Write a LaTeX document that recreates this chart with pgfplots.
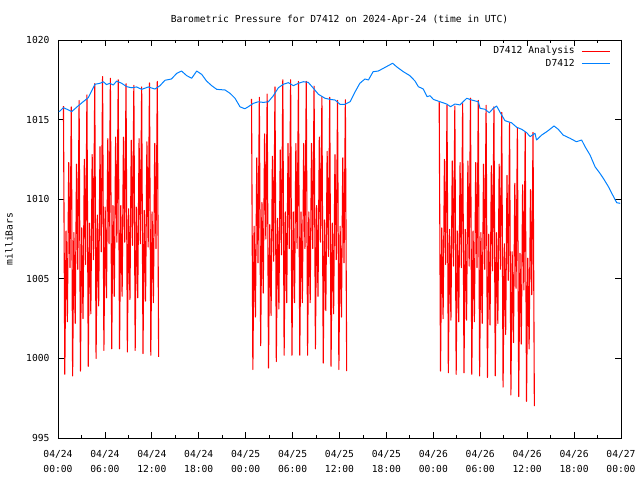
\documentclass[border=0pt]{standalone}
\usepackage{fontspec}
\setmainfont{DejaVu Sans Mono}
\usepackage{pgfplots}
\pgfplotsset{compat=1.18}
\definecolor{gblue}{RGB}{0,128,255}
\definecolor{gred}{RGB}{255,0,0}
\newcommand{\gfont}{\fontsize{9.7}{13}\selectfont}
\begin{document}
\begin{tikzpicture}
\begin{axis}[
  scale only axis, width=563bp, height=398bp,
  xmin=0, xmax=72, ymin=995, ymax=1020,
  xtick={0,6,...,72},
  xticklabels={04/24\\[2bp]00:00,04/24\\[2bp]06:00,04/24\\[2bp]12:00,04/24\\[2bp]18:00,04/25\\[2bp]00:00,04/25\\[2bp]06:00,04/25\\[2bp]12:00,04/25\\[2bp]18:00,04/26\\[2bp]00:00,04/26\\[2bp]06:00,04/26\\[2bp]12:00,04/26\\[2bp]18:00,04/27\\[2bp]00:00},
  minor xtick={3,9,...,69},
  ytick={995,1000,...,1020},
  yticklabels={995,1000,1005,1010,1015,1020},
  tick pos=both, tick align=inside,
  major tick length=6bp, minor tick length=3bp,
  every tick/.style={black, line width=0.8bp},
  axis line style={line width=0.8bp},
  xticklabel style={align=center, font=\gfont, yshift=-8.5bp},
  yticklabel style={font=\gfont, xshift=-5bp},
  title={Barometric Pressure for D7412 on 2024-Apr-24 (time in UTC)},
  title style={font=\gfont, at={(axis description cs:0.5,1.036)}, anchor=center},
  ylabel={milliBars},
  ylabel style={font=\gfont, at={(axis description cs:-0.087,0.5)}, anchor=center},
  clip=false,
]
\addplot[gred, line width=1.1bp, line join=round, mark=none] coordinates {
(0.7,1015.85)(0.87,999.0)(1.03,1008.0)(1.2,1002.3)(1.37,1012.3)(1.53,1005.7)
(1.7,1015.8)(1.87,998.9)(2.03,1007.9)(2.2,1002.2)(2.37,1012.2)(2.53,1005.6)
(2.7,1016.2)(2.87,999.2)(3.03,1008.2)(3.2,1002.5)(3.37,1012.5)(3.53,1005.9)
(3.7,1016.55)(3.87,999.5)(4.03,1008.5)(4.2,1002.8)(4.37,1012.8)(4.53,1006.2)
(4.7,1017.25)(4.87,1000.0)(5.03,1009.0)(5.2,1003.3)(5.37,1013.3)(5.53,1006.7)
(5.7,1017.7)(5.87,1000.5)(6.03,1009.5)(6.2,1003.8)(6.37,1013.8)(6.53,1007.2)
(6.7,1017.6)(6.87,1000.6)(7.03,1009.6)(7.2,1003.9)(7.37,1013.9)(7.53,1007.3)
(7.7,1017.5)(7.87,1000.6)(8.03,1009.6)(8.2,1003.9)(8.37,1013.9)(8.53,1007.3)
(8.7,1017.25)(8.87,1000.4)(9.03,1009.4)(9.2,1003.7)(9.37,1013.7)(9.53,1007.1)
(9.7,1017.15)(9.87,1000.5)(10.03,1009.5)(10.2,1003.8)(10.37,1013.8)(10.53,1007.2)
(10.7,1017.05)(10.87,1000.3)(11.03,1009.3)(11.2,1003.6)(11.37,1013.6)(11.53,1007.0)
(11.7,1017.3)(11.87,1000.2)(12.03,1009.2)(12.2,1003.5)(12.37,1013.5)(12.53,1006.9)
(12.7,1017.4)(12.87,1000.1)
};
\addplot[gred, line width=1.1bp, line join=round, mark=none] coordinates {
(24.75,1016.3)(24.92,999.3)(25.08,1008.3)(25.25,1002.6)(25.42,1012.6)(25.58,1006.0)
(25.75,1016.4)(25.92,1000.8)(26.08,1009.8)(26.25,1004.1)(26.42,1014.1)(26.58,1007.5)
(26.75,1016.6)(26.92,999.4)(27.08,1008.4)(27.25,1002.7)(27.42,1012.7)(27.58,1006.1)
(27.75,1017.05)(27.92,999.8)(28.08,1008.8)(28.25,1003.1)(28.42,1013.1)(28.58,1006.5)
(28.75,1017.5)(28.92,1000.2)(29.08,1009.2)(29.25,1003.5)(29.42,1013.5)(29.58,1006.9)
(29.75,1017.5)(29.92,1000.2)(30.08,1009.2)(30.25,1003.5)(30.42,1013.5)(30.58,1006.9)
(30.75,1017.4)(30.92,1000.2)(31.08,1009.2)(31.25,1003.5)(31.42,1013.5)(31.58,1006.9)
(31.75,1017.4)(31.92,1000.2)(32.08,1009.2)(32.25,1003.5)(32.42,1013.5)(32.58,1006.9)
(32.75,1017.1)(32.92,1000.6)(33.08,1009.6)(33.25,1003.9)(33.42,1013.9)(33.58,1007.3)
(33.75,1016.45)(33.92,999.7)(34.08,1008.7)(34.25,1003.0)(34.42,1013.0)(34.58,1006.4)
(34.75,1016.4)(34.92,999.5)(35.08,1008.5)(35.25,1002.8)(35.42,1012.8)(35.58,1006.2)
(35.75,1016.2)(35.92,999.3)(36.08,1008.3)(36.25,1002.6)(36.42,1012.6)(36.58,1006.0)
(36.75,1016.25)(36.92,999.2)
};
\addplot[gred, line width=1.1bp, line join=round, mark=none] coordinates {
(48.75,1016.1)(48.92,999.2)(49.08,1008.2)(49.25,1002.5)(49.42,1012.5)(49.58,1005.9)
(49.75,1015.9)(49.92,999.1)(50.08,1008.1)(50.25,1002.4)(50.42,1012.4)(50.58,1005.8)
(50.75,1015.85)(50.92,999.0)(51.08,1008.0)(51.25,1002.3)(51.42,1012.3)(51.58,1005.7)
(51.75,1016.0)(51.92,999.1)(52.08,1008.1)(52.25,1002.4)(52.42,1012.4)(52.58,1005.8)
(52.75,1016.35)(52.92,999.0)(53.08,1008.0)(53.25,1002.3)(53.42,1012.3)(53.58,1005.7)
(53.75,1016.2)(53.92,998.9)(54.08,1007.9)(54.25,1002.2)(54.42,1012.2)(54.58,1005.6)
(54.75,1015.9)(54.92,998.8)(55.08,1007.8)(55.25,1002.1)(55.42,1012.1)(55.58,1005.5)
(55.75,1015.8)(55.92,998.9)(56.08,1007.9)(56.25,1002.2)(56.42,1012.2)(56.58,1005.6)
(56.75,1015.45)(56.92,998.2)(57.08,1007.2)(57.25,1001.5)(57.42,1011.5)(57.58,1004.9)
(57.75,1014.8)(57.92,997.7)(58.08,1006.7)(58.25,1001.0)(58.42,1011.0)(58.58,1004.4)
(58.75,1014.5)(58.92,997.6)(59.08,1006.6)(59.25,1000.9)(59.42,1010.9)(59.58,1004.3)
(59.75,1014.2)(59.92,997.3)(60.08,1006.3)(60.25,1000.6)(60.42,1010.6)(60.58,1004.0)
(60.75,1014.2)(60.92,997.0)
};
\addplot[gblue, line width=1bp, line join=round, mark=none] coordinates {
(0.1,1015.5)(0.26,1015.54)(0.68,1015.75)(1.1,1015.66)(1.75,1015.5)(2.6,1015.87)
(3.24,1016.13)(3.88,1016.38)(4.3,1016.8)(4.73,1017.22)(5.37,1017.28)(5.8,1017.38)
(6.2,1017.2)(6.65,1017.28)(7.07,1017.17)(7.5,1017.42)(8.14,1017.28)(8.78,1017.07)
(9.4,1017.0)(10.06,1017.05)(10.7,1016.9)(11.55,1017.05)(12.4,1016.92)(13.04,1017.13)
(13.68,1017.47)(14.5,1017.55)(15.18,1017.9)(15.8,1018.05)(16.46,1017.76)(17.1,1017.6)
(17.74,1018.05)(18.38,1017.84)(19.0,1017.42)(19.66,1017.13)(20.3,1016.9)(21.36,1016.86)
(22.0,1016.65)(22.64,1016.34)(23.28,1015.8)(23.9,1015.68)(24.34,1015.81)(24.98,1016.02)
(25.62,1016.12)(26.26,1016.08)(26.9,1016.12)(27.54,1016.5)(28.18,1017.0)(28.82,1017.22)
(29.46,1017.32)(30.1,1017.13)(30.74,1017.28)(31.38,1017.38)(32.0,1017.34)(32.66,1016.97)
(33.3,1016.59)(34.15,1016.34)(34.8,1016.27)(35.43,1016.23)(36.07,1015.96)(36.7,1015.96)
(37.35,1016.12)(38.0,1016.75)(38.6,1017.28)(39.25,1017.55)(39.7,1017.49)(40.3,1018.01)
(40.96,1018.05)(41.6,1018.22)(42.24,1018.39)(42.8,1018.54)(43.3,1018.32)(44.16,1018.01)
(45.0,1017.76)(45.66,1017.42)(46.08,1017.07)(46.72,1016.92)(47.2,1016.44)(47.58,1016.5)
(48.0,1016.27)(48.86,1016.12)(49.7,1015.98)(50.2,1015.81)(50.77,1015.98)(51.4,1015.92)
(52.27,1016.34)(52.9,1016.23)(53.76,1016.12)(53.97,1015.71)(54.6,1015.65)(55.16,1015.43)
(55.67,1015.71)(56.1,1015.85)(56.6,1015.4)(57.17,1014.93)(58.0,1014.8)(58.66,1014.52)
(59.3,1014.39)(59.94,1014.18)(60.37,1013.93)(61.0,1014.14)(61.2,1013.72)(61.86,1014.03)
(62.5,1014.24)(62.9,1014.39)(63.43,1014.6)(63.98,1014.39)(64.6,1014.03)(65.5,1013.82)
(66.3,1013.61)(66.97,1013.72)(67.4,1013.3)(68.04,1012.78)(68.68,1012.04)(69.3,1011.63)
(69.74,1011.31)(70.4,1010.78)(70.94,1010.26)(71.45,1009.78)(71.9,1009.74)
};
\node[font=\gfont, anchor=east, inner sep=0pt] at (axis description cs:0.9183,0.972) {D7412 Analysis};
\node[font=\gfont, anchor=east, inner sep=0pt] at (axis description cs:0.9183,0.9415) {D7412};
\draw[gred, line width=1bp] (axis description cs:0.9307,0.972) -- ++(28bp,0bp);
\draw[gblue, line width=1bp] (axis description cs:0.9307,0.9415) -- ++(28bp,0bp);
\end{axis}
\path (current axis.south west) ++(-58bp,-42bp) rectangle ++(640bp,480bp);
\end{tikzpicture}
\end{document}
